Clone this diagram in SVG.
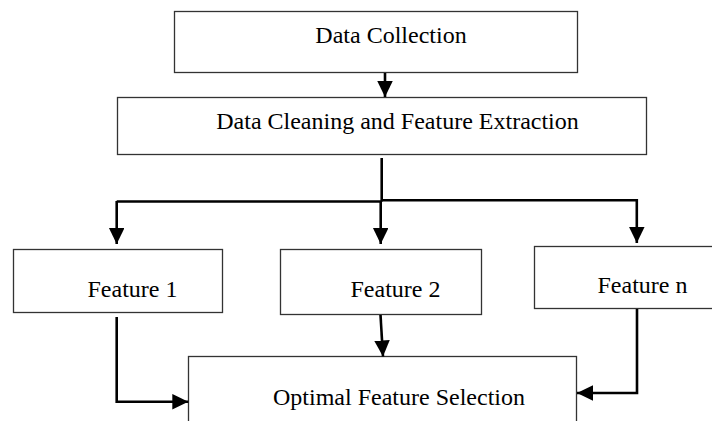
<svg xmlns="http://www.w3.org/2000/svg" width="712" height="421" viewBox="0 0 712 421">
<style>
.box{fill:#fff;stroke:#333;stroke-width:1.3}
.lbl{font-family:"Liberation Serif","Times New Roman",serif;font-size:24px;fill:#000;text-anchor:middle}
.con{fill:none;stroke:#000;stroke-width:2.6}
</style>
<defs>
<marker id="ah" markerUnits="userSpaceOnUse" markerWidth="17" markerHeight="16" refX="16" refY="7.75" orient="auto">
<path d="M0,0 L16,7.75 L0,15.5 Z" fill="#000"/>
</marker>
</defs>
<rect width="712" height="421" fill="#fff"/>
<g id="n1"><rect class="box" x="174.5" y="11.5" width="403" height="61"/><text class="lbl" x="391" y="43">Data Collection</text></g>
<g id="n2"><rect class="box" x="117.5" y="97.5" width="529" height="57"/><text class="lbl" x="397.5" y="129">Data Cleaning and Feature Extraction</text></g>
<g id="f1"><rect class="box" x="13.5" y="249.5" width="209" height="63"/><text class="lbl" x="132.5" y="297">Feature 1</text></g>
<g id="f2"><rect class="box" x="280.5" y="249.5" width="201" height="65"/><text class="lbl" x="395.5" y="297">Feature 2</text></g>
<g id="fn"><rect class="box" x="534.5" y="246.5" width="190" height="62"/><text class="lbl" x="642.5" y="293">Feature n</text></g>
<g id="opt"><rect class="box" x="188.5" y="356.5" width="388" height="80"/><text class="lbl" x="399" y="405">Optimal Feature Selection</text></g>
<g id="connectors">
<path class="con" d="M385,73 L385,97" marker-end="url(#ah)"/>
<path class="con" d="M381.7,158 L381.7,201.5"/>
<path class="con" d="M116.7,201.5 L382,201.5"/>
<path class="con" d="M381.7,200.3 L638,200.3"/>
<path class="con" d="M116.7,201 L116.7,244" marker-end="url(#ah)"/>
<path class="con" d="M380.7,201 L380.7,244" marker-end="url(#ah)"/>
<path class="con" d="M636.8,199 L636.8,243" marker-end="url(#ah)"/>
<path class="con" d="M116.7,317 L116.7,401.7 L188.3,401.7" marker-end="url(#ah)"/>
<path class="con" d="M380.5,315 L383,356.5" marker-end="url(#ah)"/>
<path class="con" d="M637,309 L637,393 L577,393" marker-end="url(#ah)"/>
</g>
</svg>
